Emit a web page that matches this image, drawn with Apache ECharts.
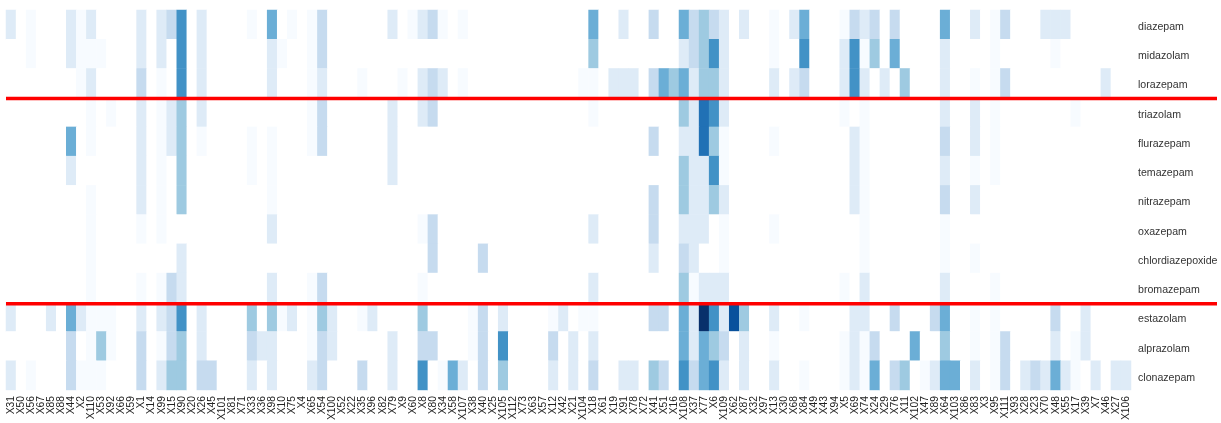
<!DOCTYPE html>
<html><head><meta charset="utf-8">
<style>html,body{margin:0;padding:0;background:#fff}#c{width:1221px;height:423px}</style>
<script src="https://cdn.jsdelivr.net/npm/echarts@6/dist/echarts.min.js"></script>
</head><body><div id="c"></div>
<script>
const features = ["X31","X50","X56","X67","X85","X88","X44","X2","X110","X53","X92","X66","X59","X1","X14","X99","X15","X90","X20","X26","X45","X101","X81","X71","X33","X36","X98","X10","X75","X4","X65","X54","X100","X52","X22","X35","X96","X82","X79","X9","X60","X8","X80","X34","X58","X107","X38","X40","X25","X105","X112","X73","X63","X57","X12","X42","X21","X104","X18","X61","X19","X91","X78","X72","X41","X51","X16","X108","X37","X77","X6","X109","X62","X87","X32","X97","X13","X30","X68","X84","X49","X43","X94","X5","X69","X74","X24","X29","X76","X11","X102","X47","X89","X64","X103","X86","X83","X3","X95","X111","X93","X28","X23","X70","X48","X55","X17","X39","X7","X46","X27","X106"];
const drugs = ["diazepam","midazolam","lorazepam","triazolam","flurazepam","temazepam","nitrazepam","oxazepam","chlordiazepoxide","bromazepam","estazolam","alprazolam","clonazepam"];
// Non-zero cells per drug: [feature index, level]
const diazepam = [[0,2],[2,1],[6,2],[7,1],[8,2],[13,2],[15,2],[16,3],[17,6],[19,2],[24,1],[26,5],[28,1],[30,1],[31,3],[38,2],[40,1],[41,2],[42,3],[43,1],[45,1],[58,5],[61,2],[64,3],[67,5],[68,3],[69,4],[70,3],[71,2],[73,2],[76,1],[78,2],[79,5],[83,1],[84,3],[85,2],[86,3],[88,3],[93,5],[96,2],[98,1],[99,3],[103,2],[104,2],[105,2]];
const midazolam = [[2,1],[6,2],[7,1],[8,1],[9,1],[13,2],[15,2],[17,6],[19,2],[26,2],[27,1],[30,1],[31,3],[58,4],[67,2],[68,3],[69,4],[70,6],[71,2],[76,1],[79,6],[83,2],[84,6],[85,1],[86,4],[88,5],[93,2],[98,1],[104,1]];
const lorazepam = [[7,1],[8,2],[13,3],[15,1],[17,6],[19,2],[26,2],[30,1],[31,2],[35,1],[39,1],[41,2],[42,3],[43,2],[45,1],[57,1],[58,1],[60,2],[61,2],[62,2],[64,3],[65,5],[66,4],[67,5],[68,2],[69,4],[70,4],[71,2],[76,2],[78,2],[79,3],[83,2],[84,6],[85,2],[87,2],[89,4],[93,2],[96,1],[98,1],[99,3],[109,2]];
const triazolam = [[8,1],[10,1],[13,2],[15,1],[16,2],[17,4],[19,2],[30,1],[31,3],[38,2],[41,2],[42,3],[58,1],[67,4],[68,2],[69,7],[70,6],[71,2],[83,1],[85,1],[93,2],[96,2],[98,1],[106,1]];
const flurazepam = [[6,5],[8,1],[13,2],[15,1],[16,2],[17,4],[19,1],[24,1],[26,1],[30,1],[31,3],[38,2],[64,3],[67,2],[68,2],[69,7],[70,4],[71,1],[76,1],[84,2],[85,1],[93,3],[96,2],[98,1]];
const temazepam = [[6,2],[13,2],[15,1],[17,4],[24,1],[26,1],[38,2],[67,4],[68,2],[69,2],[70,6],[71,1],[84,2],[85,1],[93,2],[96,1],[98,1]];
const nitrazepam = [[8,1],[13,2],[15,1],[17,4],[26,1],[64,3],[67,4],[68,2],[69,2],[70,4],[71,2],[84,2],[85,1],[93,3],[96,2]];
const oxazepam = [[8,1],[13,1],[15,1],[26,2],[41,1],[42,3],[58,2],[64,3],[67,2],[68,2],[69,2],[71,1],[76,1],[85,1],[93,1]];
const chlordiazepoxide = [[8,1],[17,2],[42,3],[47,3],[64,2],[67,3],[68,2],[71,1],[85,1],[93,1],[96,1]];
const bromazepam = [[8,1],[13,1],[15,1],[16,3],[17,2],[26,2],[30,1],[31,3],[41,1],[58,2],[67,4],[68,1],[69,2],[70,2],[71,2],[83,1],[85,2],[93,2],[98,1]];
const estazolam = [[0,2],[4,2],[6,5],[7,2],[8,1],[9,1],[10,1],[13,2],[15,2],[16,3],[17,6],[19,2],[24,4],[26,4],[27,1],[28,2],[30,1],[31,4],[32,2],[35,1],[36,2],[41,4],[46,1],[47,3],[49,2],[54,1],[55,2],[57,1],[58,1],[64,3],[65,3],[67,5],[68,2],[69,9],[70,6],[71,2],[72,8],[73,4],[76,2],[79,1],[84,2],[85,2],[88,3],[92,3],[93,5],[96,1],[98,1],[104,3],[107,2]];
const alprazolam = [[6,3],[8,1],[9,4],[10,1],[13,3],[15,1],[16,3],[17,4],[19,2],[24,3],[25,2],[26,2],[30,1],[31,3],[32,2],[38,2],[41,3],[42,3],[46,1],[47,3],[49,6],[54,3],[56,2],[58,2],[67,5],[68,2],[69,5],[70,4],[71,3],[73,2],[76,1],[83,1],[84,2],[85,1],[86,3],[90,5],[93,4],[96,1],[98,1],[99,3],[104,2],[106,1],[107,2]];
const clonazepam = [[0,2],[2,1],[6,3],[7,1],[8,1],[9,1],[13,3],[15,2],[16,4],[17,4],[19,3],[20,3],[24,2],[26,2],[30,2],[31,3],[35,3],[38,2],[41,6],[43,1],[44,5],[45,2],[47,3],[49,4],[54,2],[56,2],[58,3],[61,2],[62,2],[64,4],[65,3],[67,6],[68,3],[69,5],[70,6],[71,2],[73,2],[76,2],[79,1],[83,1],[84,2],[85,1],[86,5],[88,3],[89,4],[91,1],[92,2],[93,5],[94,5],[96,2],[98,1],[99,3],[101,2],[102,3],[103,2],[104,5],[105,2],[106,1],[108,2],[110,2],[111,2]];
const rows = [diazepam,midazolam,lorazepam,triazolam,flurazepam,temazepam,nitrazepam,oxazepam,chlordiazepoxide,bromazepam,estazolam,alprazolam,clonazepam];
const palette = ["#ffffff","#f7fbff","#deebf7","#c6dbef","#9ecae1","#6baed6","#4292c6","#2171b5","#08519c","#08306b"];
const groupBreaks = [3,10];

const cells = [];
rows.forEach((row, r) => {
  const byCol = new Map(row);
  features.forEach((f, c) => cells.push([c, r, byCol.get(c) || 0]));
});

const chart = echarts.init(document.getElementById('c'), null, {renderer:'canvas'});
chart.setOption({
  animation:false,
  backgroundColor:'#fff',
  grid:[
    {left:6, top:10, width:1125, height:381},
    {left:6, top:10.6, width:1211, height:381}
  ],
  xAxis:[
    {type:'category', gridIndex:0, data:features, position:'bottom',
     axisLine:{show:false}, axisTick:{show:false}, splitLine:{show:false},
     axisLabel:{interval:0, rotate:90, margin:6, fontSize:10.3, color:'#222', fontFamily:'Liberation Sans', hideOverlap:false}},
    {type:'value', gridIndex:1, min:0, max:1, show:false}
  ],
  yAxis:[
    {type:'category', gridIndex:0, data:drugs, inverse:true, position:'right',
     axisLine:{show:false}, axisTick:{show:false}, splitLine:{show:false},
     axisLabel:{interval:0, margin:7, fontSize:10.6, color:'#333', fontFamily:'Liberation Sans', align:'left', verticalAlign:'middle',
       formatter:v=>'{a|'+v+'}',
       rich:{a:{fontSize:10.6, color:'#333', fontFamily:'Liberation Sans', padding:[5,0,0,0]}}}},
    {type:'value', gridIndex:1, min:0, max:13, inverse:true, show:false}
  ],
  visualMap:{show:false, type:'piecewise', seriesIndex:0, dimension:2,
    pieces:palette.map((color,value)=>({value,color}))},
  tooltip:{show:false},
  series:[
    {type:'heatmap', xAxisIndex:0, yAxisIndex:0, data:cells, itemStyle:{borderWidth:0}, emphasis:{disabled:true}, progressive:0},
    ...groupBreaks.map(b=>({type:'line', xAxisIndex:1, yAxisIndex:1, data:[[0,b],[1,b]], showSymbol:false, symbol:'none', silent:true, z:5,
      lineStyle:{color:'#ff0000', width:3.5}}))
  ]
});
</script></body></html>
